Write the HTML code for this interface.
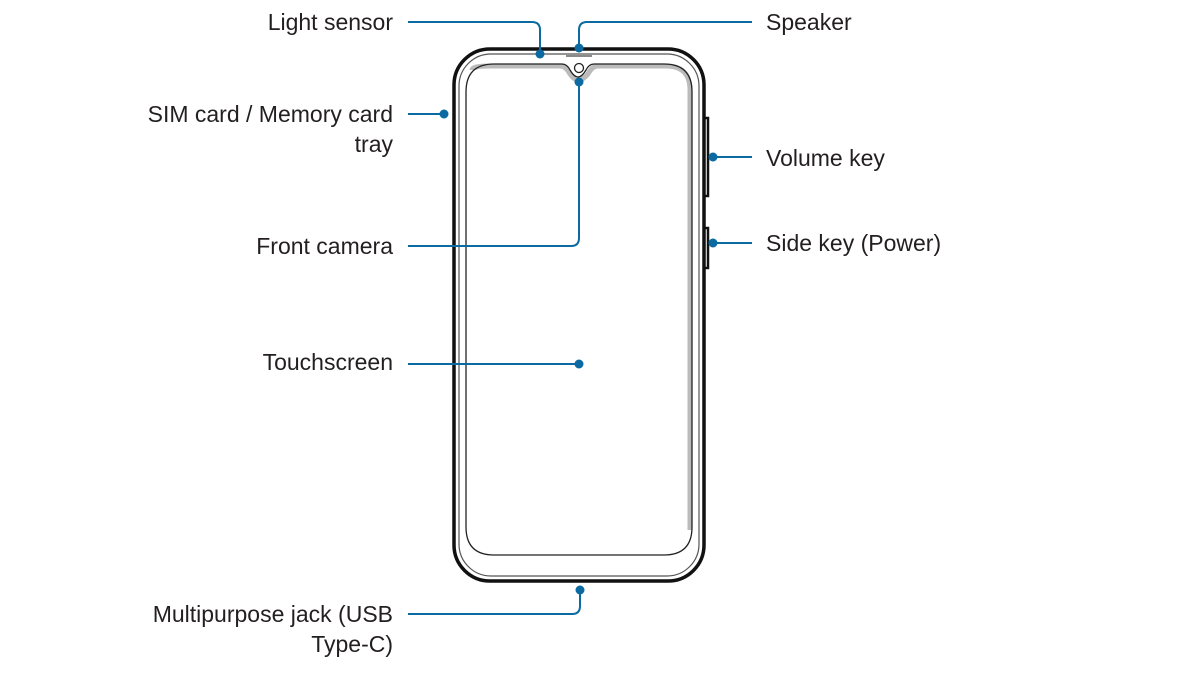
<!DOCTYPE html>
<html><head><meta charset="utf-8"><style>
html,body{margin:0;padding:0;background:#fff;width:1200px;height:674px;overflow:hidden}
svg{display:block}
text{font-family:"Liberation Sans",sans-serif;font-size:23px;fill:#231f20}
</style></head><body>
<svg width="1200" height="674" viewBox="0 0 1200 674">
<rect x="454" y="49" width="250" height="532" rx="36" fill="#fff" stroke="#111" stroke-width="3.5"/>
<rect x="459" y="54" width="240" height="522" rx="32" fill="none" stroke="#555" stroke-width="1.2"/>
<path d="M704 118 H708 V196 H704" fill="none" stroke="#111" stroke-width="2.5"/>
<path d="M704 228 H708 V268 H704" fill="none" stroke="#111" stroke-width="2.5"/>
<path d="M472 70 Q472 66 490 66 H560 Q566 66 570 74 Q578 86 588 74 Q592 66 598 66 H666 Q690 66 690 90 V530" fill="none" stroke="#bbb" stroke-width="5"/>
<path d="M494 64 H562 Q567 64 570 70 Q578 84 586 70 Q589 64 594 64 H664 Q692 64 692 92 V527 Q692 555 664 555 H494 Q466 555 466 527 V92 Q466 64 494 64 Z" fill="none" stroke="#222" stroke-width="1.3"/>
<line x1="566" y1="56" x2="592" y2="56" stroke="#444" stroke-width="1.3"/>
<circle cx="579" cy="68" r="4.5" fill="#fff" stroke="#222" stroke-width="1.3"/>
<g fill="none" stroke="#0a6aa1" stroke-width="2">
<path d="M408 22 H532 Q540 22 540 30 V54"/>
<path d="M752 22 H587 Q579 22 579 30 V48"/>
<path d="M408 114 H444"/>
<path d="M579 82 V238 Q579 246 571 246 H408"/>
<path d="M408 364 H579"/>
<path d="M713 157 H752"/>
<path d="M713 243 H752"/>
<path d="M580 590 V606 Q580 614 572 614 H408"/>
</g>
<g fill="#0a6aa1">
<circle cx="540" cy="54" r="4.5"/>
<circle cx="579" cy="48" r="4.5"/>
<circle cx="444" cy="114" r="4.5"/>
<circle cx="579" cy="82" r="4.5"/>
<circle cx="579" cy="364" r="4.5"/>
<circle cx="713" cy="157" r="4.5"/>
<circle cx="713" cy="243" r="4.5"/>
<circle cx="580" cy="590" r="4.5"/>
</g>
<g text-anchor="end">
<text x="393" y="30">Light sensor</text>
<text x="393" y="122">SIM card / Memory card</text>
<text x="393" y="152">tray</text>
<text x="393" y="254">Front camera</text>
<text x="393" y="370">Touchscreen</text>
<text x="393" y="622">Multipurpose jack (USB</text>
<text x="393" y="652">Type-C)</text>
</g>
<text x="766" y="30">Speaker</text>
<text x="766" y="166">Volume key</text>
<text x="766" y="251">Side key (Power)</text>
</svg>
</body></html>
